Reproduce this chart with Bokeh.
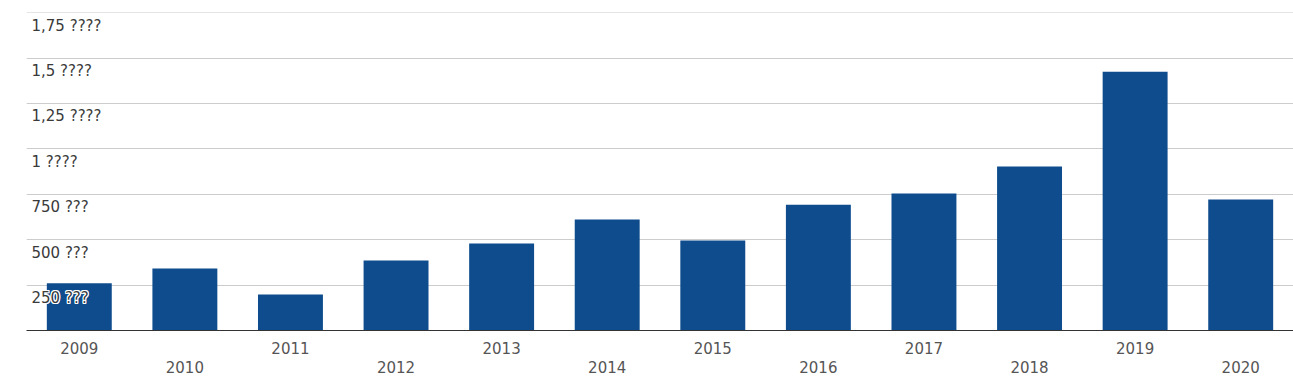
from bokeh.plotting import figure
from bokeh.models import Range1d, LinearAxis, FixedTicker, ColumnDataSource
from bokeh.core.properties import value
from bokeh.embed import file_html
from bokeh.resources import INLINE

years = ["2009", "2010", "2011", "2012", "2013", "2014", "2015", "2016", "2017", "2018", "2019", "2020"]
values = [260, 341, 198, 385, 479, 611, 495, 693, 754, 903, 1425, 721]
y_ticks = [250, 500, 750, 1000, 1250, 1500, 1750]
y_tick_labels = ["250 ???", "500 ???", "750 ???", "1 ????", "1,25 ????", "1,5 ????", "1,75 ????"]

xs = [i + 0.5 for i in range(len(years))]

p = figure(width=1293, height=384, output_backend="svg", toolbar_location=None,
           x_range=Range1d(0, len(years)), y_range=Range1d(0, 1751),
           min_border_left=26, min_border_right=0, min_border_top=12, min_border_bottom=54,
           x_axis_location=None, y_axis_location=None)
p.outline_line_color = None
p.background_fill_color = "white"
p.border_fill_color = "white"

p.ygrid.ticker = FixedTicker(ticks=y_ticks)
p.ygrid.grid_line_color = "#cccccc"
p.xgrid.grid_line_color = None

src = ColumnDataSource(dict(x=xs, top=values))
p.vbar(x="x", top="top", width=0.615, bottom=0, source=src, fill_color="#0e4c8e", line_color=None)

lab = ColumnDataSource(dict(x=[0] * len(y_ticks), y=y_ticks, t=y_tick_labels))
for dx, dy in [(-1, -1), (-1, 1), (1, -1), (1, 1), (0, -1), (0, 1), (-1, 0), (1, 0)]:
    p.text(x="x", y="y", text="t", source=lab, x_offset=5 + dx, y_offset=4 + dy,
           text_baseline="top", text_align="left", text_font=value("DejaVu Sans"),
           text_font_size="15px", text_color="white")
p.text(x="x", y="y", text="t", source=lab, x_offset=5, y_offset=4,
       text_baseline="top", text_align="left", text_font=value("DejaVu Sans"),
       text_font_size="15px", text_color="#3a3a3a")

ax1 = LinearAxis(ticker=FixedTicker(ticks=[xs[i] for i in range(0, len(years), 2)]),
                 major_label_overrides={xs[i]: years[i] for i in range(0, len(years), 2)})
ax2 = LinearAxis(ticker=FixedTicker(ticks=[xs[i] for i in range(1, len(years), 2)]),
                 major_label_overrides={xs[i]: years[i] for i in range(1, len(years), 2)})
for ax in (ax1, ax2):
    ax.major_tick_line_color = None
    ax.minor_tick_line_color = None
    ax.major_label_text_font = "DejaVu Sans"
    ax.major_label_text_font_size = "15px"
    ax.major_label_text_color = "#555555"
ax1.axis_line_color = "#333333"
ax1.major_label_standoff = 5
ax2.axis_line_color = None
ax2.major_label_standoff = -2
p.add_layout(ax1, "below")
p.add_layout(ax2, "below")

open("out.html", "w").write(file_html(p, INLINE))
